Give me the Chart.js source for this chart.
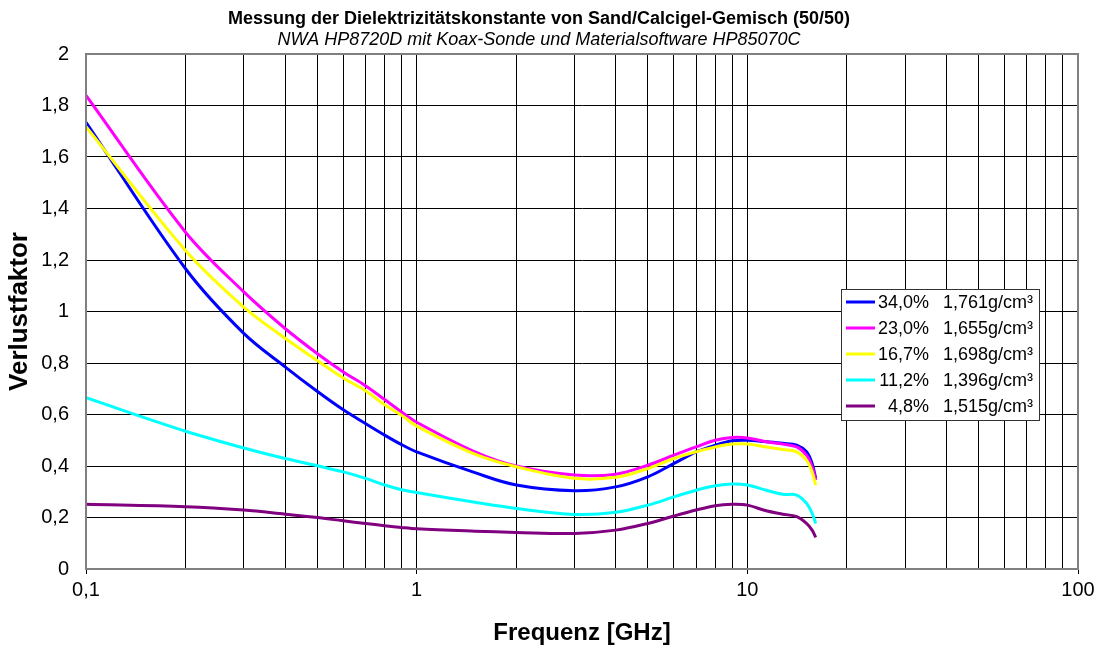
<!DOCTYPE html>
<html>
<head>
<meta charset="utf-8">
<script src="https://cdn.jsdelivr.net/npm/chart.js@4/dist/chart.umd.min.js"></script>
<style>
  body { margin: 0; background: #fff; }
  #wrap { width: 1101px; height: 652px; }
</style>
</head>
<body>
<div id="wrap"><canvas id="myChart" width="1101" height="652"></canvas></div>
<script>
// Frequenzpunkte [GHz]
var freq = [0.1, 0.2, 0.3, 0.4, 0.5, 0.6, 0.7, 0.8, 0.9, 1, 1.5, 2, 3, 4, 5, 6, 7, 8, 9, 10, 11.4, 12.8, 14.1, 15.1, 15.7, 16.1];

// Verlustfaktor je Probe
var v34 = [1.735, 1.166, 0.915, 0.785, 0.69, 0.618, 0.565, 0.52, 0.483, 0.455, 0.374, 0.326, 0.304, 0.319, 0.358, 0.41, 0.455, 0.481, 0.498, 0.50, 0.494, 0.488, 0.481, 0.455, 0.41, 0.352];
var v23 = [1.839, 1.308, 1.076, 0.934, 0.837, 0.765, 0.712, 0.658, 0.61, 0.57, 0.455, 0.40, 0.365, 0.368, 0.403, 0.442, 0.474, 0.50, 0.511, 0.509, 0.494, 0.485, 0.474, 0.442, 0.397, 0.345];
var v167 = [1.718, 1.237, 1.017, 0.896, 0.81, 0.742, 0.692, 0.638, 0.597, 0.555, 0.446, 0.397, 0.352, 0.356, 0.39, 0.429, 0.455, 0.474, 0.485, 0.485, 0.474, 0.464, 0.455, 0.423, 0.377, 0.326];
var v112 = [0.665, 0.535, 0.47, 0.429, 0.401, 0.377, 0.352, 0.326, 0.308, 0.297, 0.259, 0.235, 0.212, 0.22, 0.248, 0.28, 0.306, 0.323, 0.33, 0.326, 0.306, 0.29, 0.287, 0.255, 0.216, 0.177];
var v48 = [0.251, 0.242, 0.229, 0.213, 0.2, 0.187, 0.177, 0.168, 0.161, 0.156, 0.147, 0.142, 0.138, 0.151, 0.177, 0.206, 0.229, 0.246, 0.251, 0.248, 0.226, 0.213, 0.203, 0.177, 0.151, 0.123];

var feuchte = ['34,0%', '23,0%', '16,7%', '11,2%', '4,8%'];
var dichte = ['1,761g/cm³', '1,655g/cm³', '1,698g/cm³', '1,396g/cm³', '1,515g/cm³'];
var farben = ['#0000ff', '#ff00ff', '#ffff00', '#00ffff', '#800080'];
var werte = [v34, v23, v167, v112, v48];

// x-Achse: Gitter bei 1..9 je Dekade, Beschriftung nur an den Dekaden
var dekaden = [0.1, 1, 10, 100];
var dekadenText = ['0,1', '1', '10', '100'];
var gitterX = [];
for (var d = 0; d < 3; d++) {
    for (var m = 1; m <= 9; m++) {
        gitterX.push(+(m * dekaden[d]).toPrecision(3));
    }
}
gitterX.push(100);

var FONT = 'Arial, "Liberation Sans", sans-serif';

function dekadeIndex(v) {
    for (var i = 0; i < dekaden.length; i++) {
        if (Math.abs(v - dekaden[i]) < dekaden[i] * 1e-6) return i;
    }
    return -1;
}

var datasets = [];
for (var iI = 0; iI < werte.length; iI++) {
    datasets.push({
        label: feuchte[iI] + '  ' + dichte[iI],
        data: freq.map(function (f, j) { return { x: f, y: werte[iI][j] }; }),
        borderColor: farben[iI],
        backgroundColor: farben[iI],
        borderWidth: 3,
        pointRadius: 0,
        tension: 0.35,
        order: -iI
    });
}

// Rahmen um die Zeichenfläche
const rahmen = {
    id: 'rahmen',
    afterDatasetsDraw(chart) {
        const a = chart.chartArea;
        const ctx = chart.ctx;
        ctx.save();
        ctx.strokeStyle = '#808080';
        ctx.lineWidth = 2;
        ctx.strokeRect(a.left, a.top, a.right - a.left, a.bottom - a.top);
        ctx.restore();
    }
};

// Legende als Kasten rechts im Diagramm
const legendeBox = {
    id: 'legendeBox',
    afterDraw(chart) {
        const a = chart.chartArea;
        const ctx = chart.ctx;
        const x0 = a.right - 237, y0 = a.top + 235, w = 198, h = 131;
        ctx.save();
        ctx.fillStyle = '#fff';
        ctx.fillRect(x0, y0, w, h);
        ctx.strokeStyle = '#333';
        ctx.lineWidth = 1;
        ctx.strokeRect(x0 + 0.5, y0 + 0.5, w, h);
        ctx.font = '18px ' + FONT;
        ctx.textBaseline = 'middle';
        chart.data.datasets.forEach(function (ds, i) {
            const y = y0 + 13 + i * 26;
            ctx.strokeStyle = ds.borderColor;
            ctx.lineWidth = 3;
            ctx.beginPath();
            ctx.moveTo(x0 + 5, y);
            ctx.lineTo(x0 + 34, y);
            ctx.stroke();
            ctx.fillStyle = '#000';
            ctx.textAlign = 'right';
            ctx.fillText(feuchte[i], x0 + 88, y + 1);
            ctx.textAlign = 'left';
            ctx.fillText(dichte[i], x0 + 102, y + 1);
        });
        ctx.restore();
    }
};

var ctx = document.getElementById('myChart').getContext('2d');
var chart = new Chart(ctx, {
    type: 'line',
    data: { datasets: datasets },
    options: {
        responsive: false,
        animation: false,
        devicePixelRatio: 1,
        layout: { padding: { left: 0, right: 23, top: 0, bottom: 0 } },
        plugins: {
            legend: { display: false },
            tooltip: { enabled: false },
            title: {
                display: true,
                text: 'Messung der Dielektrizitätskonstante von Sand/Calcigel-Gemisch (50/50)',
                color: '#000',
                font: { family: FONT, size: 18, weight: 'bold', lineHeight: 1.2 },
                padding: { top: 8, bottom: 0 }
            },
            subtitle: {
                display: true,
                text: 'NWA HP8720D mit Koax-Sonde und Materialsoftware HP85070C',
                color: '#000',
                font: { family: FONT, size: 18, style: 'italic', weight: 'normal', lineHeight: 1.2 },
                padding: { top: 0, bottom: 2.8 }
            }
        },
        scales: {
            x: {
                type: 'logarithmic',
                min: 0.1,
                max: 100,
                afterBuildTicks: function (scale) {
                    scale.ticks = gitterX.map(function (v) { return { value: v }; });
                },
                afterFit: function (scale) { scale.height = 83; },
                ticks: {
                    autoSkip: false,
                    maxRotation: 0,
                    padding: 4,
                    color: '#000',
                    font: { family: FONT, size: 20 },
                    callback: function (value) {
                        var i = dekadeIndex(value);
                        return i >= 0 ? dekadenText[i] : '';
                    }
                },
                grid: {
                    color: '#000',
                    lineWidth: 1,
                    drawTicks: true,
                    tickLength: 5,
                    tickColor: function (c) {
                        return c.tick && dekadeIndex(c.tick.value) >= 0 ? '#000' : 'rgba(0,0,0,0)';
                    }
                },
                border: { color: '#808080', width: 2 },
                title: {
                    display: true,
                    text: 'Frequenz [GHz]',
                    color: '#000',
                    font: { family: FONT, size: 24, weight: 'bold', lineHeight: 1.2 },
                    padding: { top: 0, bottom: 4.6 }
                }
            },
            y: {
                min: 0,
                max: 2,
                afterFit: function (scale) { scale.width = 86; },
                ticks: {
                    stepSize: 0.2,
                    padding: 17,
                    color: '#000',
                    font: { family: FONT, size: 20 },
                    callback: function (value) {
                        return String(Math.round(value * 10) / 10).replace('.', ',');
                    }
                },
                grid: { color: '#000', lineWidth: 1, drawTicks: false },
                border: { color: '#808080', width: 2 },
                title: {
                    display: true,
                    text: 'Verlustfaktor',
                    color: '#000',
                    font: { family: FONT, size: 26, weight: 'bold', lineHeight: 1.2 },
                    padding: { top: 4, bottom: 0 }
                }
            }
        }
    },
    plugins: [rahmen, legendeBox]
});
</script>
</body>
</html>
